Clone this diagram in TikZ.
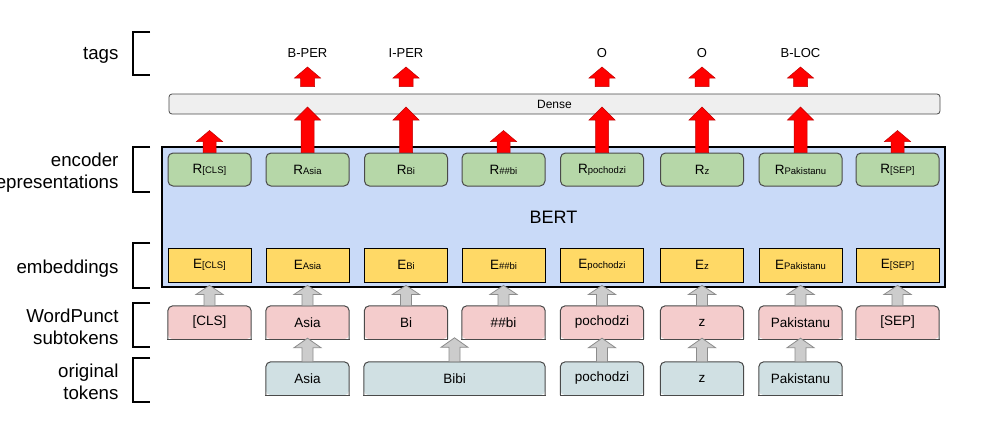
\documentclass[tikz,border=0pt]{standalone}
\usepackage{fontspec}
\setmainfont{Liberation Sans}
\usetikzlibrary{calc,backgrounds}
\definecolor{bertblue}{HTML}{C9DAF8}
\definecolor{rgreen}{HTML}{B6D7A8}
\definecolor{eyellow}{HTML}{FFD966}
\definecolor{ppink}{HTML}{F4CCCC}
\definecolor{obluegray}{HTML}{D0E0E3}
\definecolor{denseg}{HTML}{EFEFEF}
\definecolor{lineg}{HTML}{4A4A4A}
\definecolor{arrg}{HTML}{CCCCCC}
\definecolor{arrgl}{HTML}{8C8C8C}
\definecolor{darkred}{HTML}{C00000}
\newcommand\smalltok[1]{{\fontsize{9.5}{10}\selectfont #1}}
% block arrow: style, start, tip, half shaft, half head, head length
\newcommand\blockarr[6]{%
  \path[#1] let \p1=#2, \p2=#3 in
    (\x1-#4,\y1) -- (\x1-#4,\y2-#6) -- (\x1-#5,\y2-#6) -- (\x1,\y2)
    -- (\x1+#5,\y2-#6) -- (\x1+#4,\y2-#6) -- (\x1+#4,\y1) -- cycle;}
\newcommand\toprounded[2]{%
  \fill[#1,rounded corners=5pt] (#2.south west) -- (#2.north west) -- (#2.north east) -- (#2.south east) -- cycle;
  \draw[draw=lineg,line width=1pt,rounded corners=5pt] (#2.south west) -- (#2.north west) -- (#2.north east) -- (#2.south east);
  \draw[draw=lineg,line width=1pt,line cap=rect] (#2.south east) -- (#2.south west);}
\begin{document}
\begin{tikzpicture}[x=1pt,y=-1pt,
  box/.style={minimum width=83pt,minimum height=33pt,inner sep=0pt,font=\fontsize{13.5}{14}\selectfont},
  rnode/.style={box,draw=lineg,fill=rgreen,rounded corners=5pt,line width=1pt},
  enode/.style={box,draw=black,fill=eyellow,line width=0.8pt,minimum height=34pt},
  pnode/.style={box},
  onode/.style={box},
  lab/.style={anchor=east,align=right,font=\fontsize{18.7}{22}\selectfont},
  tagl/.style={font=\fontsize{13}{14}\selectfont,inner sep=0pt},
  redarr/.style={fill=red,draw=darkred,line width=0.5pt},
  grayarr/.style={fill=arrg,draw=arrgl,line width=0.8pt},
  brk/.style={line width=1.8pt,draw=black}]
\useasboundingbox (0,0) rectangle (982,423);

% side labels and brackets
\node[lab] (ltags) at (122,55.5) {tags};
\node[lab] (lenc) at (122,173) {encoder\\representations};
\node[lab] (lemb) at (122,269) {embeddings};
\node[lab] (lwp) at (122,327) {WordPunct\\subtokens};
\node[lab] (lorig) at (122,382) {original\\tokens};
\draw[brk] (150,32) -- (133,32) -- (133,75) -- (150,75);
\draw[brk] (150,147) -- (133,147) -- (133,192) -- (150,192);
\draw[brk] (150,243) -- (133,243) -- (133,288) -- (150,288);
\draw[brk] (150,303) -- (133,303) -- (133,347) -- (150,347);
\draw[brk] (150,358) -- (133,358) -- (133,402) -- (150,402);

% BERT box
\node[draw=black,fill=bertblue,line width=1.5pt,minimum width=783pt,minimum height=140pt,inner sep=0pt,
  font=\fontsize{18}{20}\selectfont] (bert) at (553.5,217) {BERT};

% Dense
\node[draw=lineg,fill=denseg,rounded corners=3pt,line width=0.8pt,minimum width=771pt,minimum height=20pt,
  inner sep=0pt,font=\fontsize{12}{12}\selectfont] (dense) at (554.5,104) {Dense};

% encoder representations
\node[rnode] (cls-r)  at (209.5,169.5) {R\smalltok{[CLS]}};
\node[rnode] (asia-r) at (307.5,169.5) {R\smalltok{Asia}};
\node[rnode] (bi-r)   at (406,169.5)   {R\smalltok{Bi}};
\node[rnode] (hbi-r)  at (503.5,169.5) {R\smalltok{\#\#bi}};
\node[rnode] (poch-r) at (602,169.5)   {R\smalltok{pochodzi}};
\node[rnode] (z-r)    at (702,169.5)   {R\smalltok{z}};
\node[rnode] (pak-r)  at (800.5,169.5) {R\smalltok{Pakistanu}};
\node[rnode] (sep-r)  at (897.5,169.5) {R\smalltok{[SEP]}};

% embeddings
\node[enode] (cls-e)  at (209.5,265) {E\smalltok{[CLS]}};
\node[enode] (asia-e) at (307.5,265) {E\smalltok{Asia}};
\node[enode] (bi-e)   at (406,265)   {E\smalltok{Bi}};
\node[enode] (hbi-e)  at (503.5,265) {E\smalltok{\#\#bi}};
\node[enode] (poch-e) at (602,265)   {E\smalltok{pochodzi}};
\node[enode] (z-e)    at (702,265)   {E\smalltok{z}};
\node[enode] (pak-e)  at (800.5,265) {E\smalltok{Pakistanu}};
\node[enode] (sep-e)  at (897.5,265) {E\smalltok{[SEP]}};

% subtokens
\node[pnode] (cls-p)  at (209.5,322.5) {[CLS]};
\node[pnode] (asia-p) at (307.5,322.5) {Asia};
\node[pnode] (bi-p)   at (406,322.5)   {Bi};
\node[pnode] (hbi-p)  at (503.5,322.5) {\#\#bi};
\node[pnode] (poch-p) at (602,322.5)   {pochodzi};
\node[pnode] (z-p)    at (702,322.5)   {z};
\node[pnode] (pak-p)  at (800.5,322.5) {Pakistanu};
\node[pnode] (sep-p)  at (897.5,322.5) {[SEP]};

% original tokens
\node[onode] (asia-o) at (307.5,378.5) {Asia};
\node[onode,minimum width=181pt] (bibi-o) at (454.5,378.5) {Bibi};
\node[onode] (poch-o) at (602,378.5)   {pochodzi};
\node[onode] (z-o)    at (702,378.5)   {z};
\node[onode] (pak-o)  at (800.5,378.5) {Pakistanu};

\begin{scope}[on background layer]
  \foreach \k in {cls-p,asia-p,bi-p,hbi-p,poch-p,z-p,pak-p,sep-p} {\toprounded{ppink}{\k}}
  \foreach \k in {asia-o,bibi-o,poch-o,z-o,pak-o} {\toprounded{obluegray}{\k}}
\end{scope}

% tags
\node[tagl] (asia-t) at (307.5,53) {B-PER};
\node[tagl] (bi-t)   at (406,53)   {I-PER};
\node[tagl] (poch-t) at (602,53)   {O};
\node[tagl] (z-t)    at (702,53)   {O};
\node[tagl] (pak-t)  at (800.5,53) {B-LOC};

% red arrows: short ones
\foreach \k in {cls,hbi,sep} {
  \coordinate (\k-tip) at ($(\k-r.north)+(0,-22)$);
  \blockarr{redarr}{(\k-r.north)}{(\k-tip)}{6.5pt}{13pt}{11pt}
}
% red arrows: into Dense and out to tags
\foreach \k in {asia,bi,poch,z,pak} {
  \coordinate (\k-dtip) at ($(\k-r.north |- dense.center)+(0,3)$);
  \blockarr{redarr}{(\k-r.north)}{(\k-dtip)}{6.5pt}{13pt}{13pt}
  \coordinate (\k-dout) at ($(\k-r.north |- dense.north)+(0,-7)$);
  \coordinate (\k-ttip) at ($(\k-t.center)+(0,14)$);
  \blockarr{redarr}{(\k-dout)}{(\k-ttip)}{7pt}{13pt}{11pt}
}

% gray arrows: subtokens -> embeddings
\foreach \k in {cls,asia,bi,hbi,poch,z,pak,sep} {
  \coordinate (\k-etip) at ($(\k-e.south)+(0,3)$);
  \blockarr{grayarr}{(\k-p.north)}{(\k-etip)}{5.5pt}{13.5pt}{9pt}
}
% gray arrows: original tokens -> subtokens
\foreach \k in {asia,poch,z,pak} {
  \coordinate (\k-ptip) at ($(\k-p.south)+(0,-1)$);
  \blockarr{grayarr}{(\k-o.north)}{(\k-ptip)}{5.5pt}{13.5pt}{9.5pt}
}
\coordinate (bibi-tip) at ($(bibi-o.north)+(0,-24)$);
\blockarr{grayarr}{(bibi-o.north)}{(bibi-tip)}{5.5pt}{13.5pt}{9.5pt}
\end{tikzpicture}
\end{document}
